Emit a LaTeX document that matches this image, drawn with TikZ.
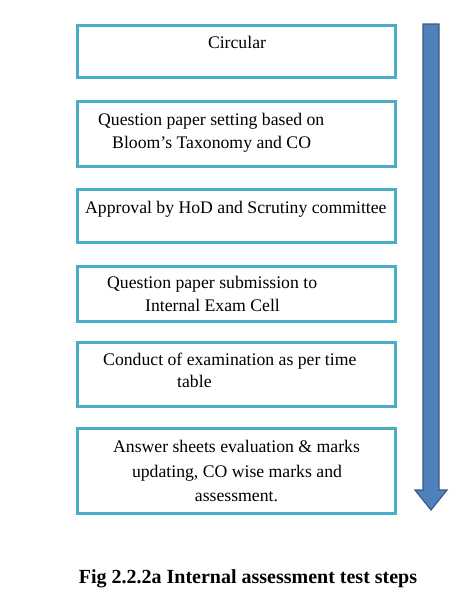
\documentclass[tikz,border=0pt]{standalone}
\usepackage{fontspec}
\setmainfont{Liberation Serif}
\definecolor{boxline}{RGB}{75,172,198}
\definecolor{arrfill}{RGB}{79,129,189}
\definecolor{arrline}{RGB}{56,93,138}
\begin{document}
\begin{tikzpicture}[x=1pt,y=-1pt,
  stepbox/.style={draw=boxline,line width=3pt,fill=white,inner sep=0pt},
  txt/.style={anchor=base west,inner sep=0pt,font=\fontsize{17.7}{23}\selectfont},
  txtc/.style={anchor=base,inner sep=0pt,font=\fontsize{17.7}{23}\selectfont}]
\useasboundingbox (0,0) rectangle (473,589);
\fill[white] (0,0) rectangle (473,589);
% boxes
\node[stepbox,minimum width=318pt,minimum height=52pt] (b1) at (236,51) {};
\node[stepbox,minimum width=318pt,minimum height=65pt] (b2) at (236,134) {};
\node[stepbox,minimum width=318pt,minimum height=53pt] (b3) at (236,215.5) {};
\node[stepbox,minimum width=318pt,minimum height=55pt] (b4) at (236,294) {};
\node[stepbox,minimum width=318pt,minimum height=64pt] (b5) at (236,374) {};
\node[stepbox,minimum width=318pt,minimum height=85pt] (b6) at (236,470.5) {};
% texts
\node[txtc] (t1) at (237,48) {Circular};
\node[txt] (t2a) at (98,125) {Question paper setting based on};
\node[txt] (t2b) at (112,148) {Bloom’s Taxonomy and CO};
\node[txt] (t3) at (85,213) {Approval by HoD and Scrutiny committee};
\node[txt] (t4a) at (107,288) {Question paper submission to};
\node[txt] (t4b) at (145,311) {Internal Exam Cell};
\node[txt] (t5a) at (103,365) {Conduct of examination as per time};
\node[txt] (t5b) at (177,387) {table};
\node[txtc] (t6a) at (236.5,452) {Answer sheets evaluation \& marks};
\node[txtc] (t6b) at (237,477) {updating, CO wise marks and};
\node[txtc] (t6c) at (236.5,501) {assessment.};
% big arrow
\draw[fill=arrfill,draw=arrline,line width=1.2pt,line join=miter]
  (423,24) -- (439,24) -- (439,490) -- (447,490) -- (431,510) -- (415,490) -- (423,490) -- cycle;
% caption
\node[anchor=base,inner sep=0pt,font=\fontsize{20}{24}\bfseries\selectfont] (cap) at (248,583) {Fig 2.2.2a Internal assessment test steps};
\end{tikzpicture}
\end{document}
